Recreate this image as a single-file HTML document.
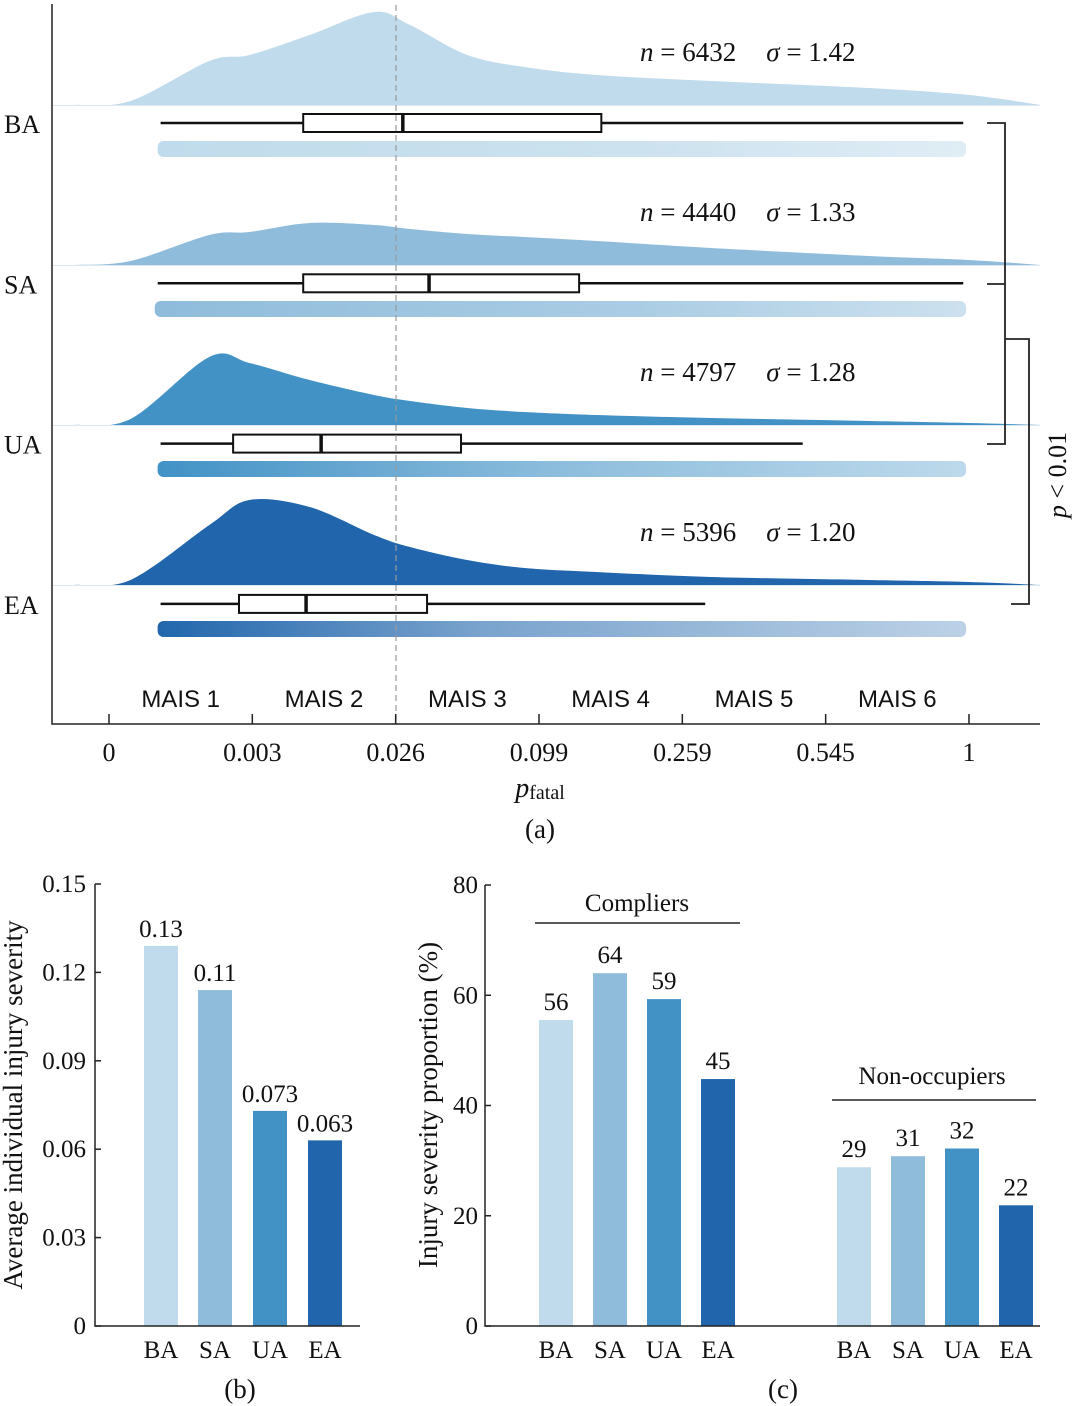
<!DOCTYPE html>
<html><head><meta charset="utf-8">
<style>
html,body{margin:0;padding:0;background:#fff;}
svg{display:block;font-family:"Liberation Serif",serif;}
</style></head>
<body>
<svg id="chart" width="1080" height="1406" viewBox="0 0 1080 1406" xmlns="http://www.w3.org/2000/svg">
<defs>
<linearGradient id="g0" x1="0" x2="1"><stop offset="0" stop-color="#c0dbeb" stop-opacity="1"/><stop offset="0.6" stop-color="#c0dbeb" stop-opacity="0.8"/><stop offset="1" stop-color="#c0dbeb" stop-opacity="0.5"/></linearGradient>
<linearGradient id="g1" x1="0" x2="1"><stop offset="0" stop-color="#8fbcdb" stop-opacity="1"/><stop offset="0.6" stop-color="#8fbcdb" stop-opacity="0.75"/><stop offset="1" stop-color="#8fbcdb" stop-opacity="0.45"/></linearGradient>
<linearGradient id="g2" x1="0" x2="1"><stop offset="0" stop-color="#4292c6" stop-opacity="1"/><stop offset="0.5" stop-color="#4292c6" stop-opacity="0.6"/><stop offset="1" stop-color="#4292c6" stop-opacity="0.35"/></linearGradient>
<linearGradient id="g3" x1="0" x2="1"><stop offset="0" stop-color="#2166ac" stop-opacity="1"/><stop offset="0.4" stop-color="#2166ac" stop-opacity="0.6"/><stop offset="1" stop-color="#2166ac" stop-opacity="0.3"/></linearGradient>
</defs>
<g id="topG"></g>
<g id="pb"></g>
<g id="pc"></g>
</svg>
<script>
// ---- Panel (a) data (x in MAIS index units, 0 = tick "0", 6 = tick "1") ----
const groups = ["BA","SA","UA","EA"];
const colors = ["#c0dbeb","#8fbcdb","#4292c6","#2166ac"];
const nVals = ["6432","4440","4797","5396"];
const sigmaVals = ["1.42","1.33","1.28","1.20"];
const whiskLo = [0.36,0.34,0.36,0.36];
const whiskHi = [5.96,5.96,4.84,4.16];
const q1 = [1.355,1.355,0.866,0.907];
const q3 = [3.435,3.28,2.456,2.219];
const medians = [2.05,2.233,1.48,1.375];
const densX = [-0.24,0.15,0.7,0.98,1.4,1.85,2.1,2.5,2.9,3.4,4.2,5.3,6.0,6.5];
const densBA = [0,4,44,50,70,93,80,50,38,30,24,17,10,0];
const densSA = [0,4,30,33,42,40,36,31,28,24,17,9,5,0];
const densUA = [0,6,68,62,45,30,24,17,13,10,7,4,2,0];
const densEA = [0,5,60,85,78,50,38,25,17,13,8,5,3,0];
const densities = [densBA,densSA,densUA,densEA];
const tickLabels = ["0","0.003","0.026","0.099","0.259","0.545","1"];
const maisLabels = ["MAIS 1","MAIS 2","MAIS 3","MAIS 4","MAIS 5","MAIS 6"];
// ---- Panel (b) ----
const bCats = ["BA","SA","UA","EA"];
const bVals = [0.129,0.114,0.073,0.063];
const bLabels = ["0.13","0.11","0.073","0.063"];
const bTicks = [0,0.03,0.06,0.09,0.12,0.15];
const bTickLabels = ["0","0.03","0.06","0.09","0.12","0.15"];
// ---- Panel (c) ----
const cCats = ["BA","SA","UA","EA"];
const compliers = [55.5,64,59.3,44.8];
const nonOcc = [28.8,30.8,32.2,21.9];
const compLabels = ["56","64","59","45"];
const nonLabels = ["29","31","32","22"];
const cTicks = [0,20,40,60,80];

const NS="http://www.w3.org/2000/svg";
function mk(parent,tag,attrs,text){const e=document.createElementNS(NS,tag);for(const k in attrs)e.setAttribute(k,attrs[k]);if(text!==undefined)e.textContent=text;parent.appendChild(e);return e;}

// Panel (a)
const topG=document.getElementById('topG');
const xA=v=>109+143.33*v;
const baseY=i=>105+160*i;
const boxY=i=>123+160.3*i;
const stripY=i=>149+160*i;
for(let i=0;i<4;i++){
  let d="M"+xA(densX[0])+","+baseY(i);
  const ys=densities[i];
  const pts=densX.map((x,j)=>[xA(x),baseY(i)-ys[j]]);
  for(let j=0;j<pts.length-1;j++){
    const p0=pts[Math.max(0,j-1)],p1=pts[j],p2=pts[j+1],p3=pts[Math.min(pts.length-1,j+2)];
    const c1=[p1[0]+(p2[0]-p0[0])/6,p1[1]+(p2[1]-p0[1])/6];
    const c2=[p2[0]-(p3[0]-p1[0])/6,p2[1]-(p3[1]-p1[1])/6];
    d+=` C${c1[0]},${c1[1]} ${c2[0]},${c2[1]} ${p2[0]},${p2[1]}`;
  }
  d+="Z";
  const dens=mk(topG,'path',{d:d,fill:colors[i]});
  
  
  const bl=mk(topG,'line',{x1:52,x2:1040,y1:baseY(i)+0.5,y2:baseY(i)+0.5,stroke:'#dde8ef','stroke-width':1});
  
  
  const st=mk(topG,'rect',{x:xA(whiskLo[i])-3,y:stripY(i)-8,width:xA(5.98)-xA(whiskLo[i])+3,height:16,rx:6,fill:`url(#g${i})`});
  
  
  const by=boxY(i);
  const wh=mk(topG,'line',{x1:xA(whiskLo[i]),x2:xA(whiskHi[i]),y1:by,y2:by,stroke:'#111','stroke-width':2.5});
  
  
  const bx=mk(topG,'rect',{x:xA(q1[i]),y:by-9,width:xA(q3[i])-xA(q1[i]),height:18,fill:'#fff',stroke:'#111','stroke-width':2});
  
  
  const md=mk(topG,'line',{x1:xA(medians[i]),x2:xA(medians[i]),y1:by-9,y2:by+9,stroke:'#111','stroke-width':3.5});
  
  
  const gl=mk(topG,'text',{x:4,y:by+10,'font-size':26,fill:'#111'},groups[i]);
  
  
  const st2=mk(topG,'text',{x:640,y:baseY(i)-44,'font-size':27,fill:'#111'});
  st2.innerHTML=`<tspan font-style="italic">n</tspan> = ${nVals[i]}<tspan dx="30" font-style="italic">σ</tspan> = ${sigmaVals[i]}`;
  
  
}
const dl=mk(topG,'line',{x1:396,x2:396,y1:5,y2:724,stroke:'#999','stroke-width':1.2,'stroke-dasharray':'6,4'});


const ya=mk(topG,'path',{d:'M52,4 V724 H1040',fill:'none',stroke:'#222','stroke-width':1.5});


tickLabels.forEach((t,k)=>{
  const tk=mk(topG,'line',{x1:xA(k),x2:xA(k),y1:714,y2:724,stroke:'#222','stroke-width':1.5});
  
  
  const tl=mk(topG,'text',{x:xA(k),y:761,'font-size':26,'text-anchor':'middle',fill:'#111'},t);
  
  
});
maisLabels.forEach((t,k)=>{
  const ml=mk(topG,'text',{x:xA(k+0.5),y:707,'font-size':24,'text-anchor':'middle',fill:'#111','font-family':'Liberation Sans, sans-serif'},t);
  
  
});
const xt=mk(topG,'text',{x:540,y:797,'font-size':28,'text-anchor':'middle',fill:'#111'});
xt.innerHTML='<tspan font-style="italic">p</tspan><tspan font-size="20" dy="2">fatal</tspan>';


const la=mk(topG,'text',{x:540,y:838,'font-size':27,'text-anchor':'middle',fill:'#111'},'(a)');


const br=mk(topG,'path',{d:'M987,123 H1005 V444 H987 M987,284 H1005 M1005,339 H1029 V604 H1011',fill:'none',stroke:'#222','stroke-width':1.8});


const pv=mk(topG,'text',{x:0,y:0,'font-size':26,'text-anchor':'middle',fill:'#111',transform:'translate(1066,475) rotate(-90)'});
pv.innerHTML='<tspan font-style="italic">p</tspan> &lt; 0.01';



// Panel (b)
const pb=document.getElementById('pb');
const yB=v=>1326-v*(1326-884)/0.15;
const bCx=[161,215,270,325];
bVals.forEach((v,i)=>{
  const r=mk(pb,'rect',{x:bCx[i]-17,y:yB(v),width:34,height:1326-yB(v),fill:colors[i]});
  
  
  const t=mk(pb,'text',{x:bCx[i],y:yB(v)-9,'font-size':25,'text-anchor':'middle',fill:'#111'},bLabels[i]);
  
  
  const c=mk(pb,'text',{x:bCx[i],y:1358,'font-size':25,'text-anchor':'middle',fill:'#111'},bCats[i]);
  
  
});
const axb=mk(pb,'path',{d:'M95,884 V1326 H360',fill:'none',stroke:'#222','stroke-width':1.5});


bTicks.forEach((v,k)=>{
  const tk=mk(pb,'line',{x1:95,x2:101,y1:yB(v),y2:yB(v),stroke:'#222','stroke-width':1.5});
  
  
  const tl=mk(pb,'text',{x:86,y:yB(v)+8,'font-size':25,'text-anchor':'end',fill:'#111'},bTickLabels[k]);
  
  
});
const ytb=mk(pb,'text',{x:0,y:0,'font-size':27,'text-anchor':'middle',fill:'#111',transform:'translate(22,1105) rotate(-90)'},'Average individual injury severity');


const lb=mk(pb,'text',{x:240,y:1398,'font-size':27,'text-anchor':'middle',fill:'#111'},'(b)');



// Panel (c)
const pc=document.getElementById('pc');
const yC=v=>1326-v*(1326-885)/80;
const cCx1=[556,610,664,718], cCx2=[854,908,962,1016];
[[compliers,compLabels,cCx1,'compliers'],[nonOcc,nonLabels,cCx2,'non-occupiers']].forEach(([vals,labs,cx,nm])=>{
  vals.forEach((v,i)=>{
    const r=mk(pc,'rect',{x:cx[i]-17,y:yC(v),width:34,height:1326-yC(v),fill:colors[i]});
    
    
    const t=mk(pc,'text',{x:cx[i],y:yC(v)-10,'font-size':25,'text-anchor':'middle',fill:'#111'},labs[i]);
    
    
    const c=mk(pc,'text',{x:cx[i],y:1358,'font-size':25,'text-anchor':'middle',fill:'#111'},cCats[i]);
    
    
  });
});
const axc=mk(pc,'path',{d:'M485,885 V1326 H1040',fill:'none',stroke:'#222','stroke-width':1.5});


cTicks.forEach(v=>{
  const tk=mk(pc,'line',{x1:485,x2:491,y1:yC(v),y2:yC(v),stroke:'#222','stroke-width':1.5});
  
  
  const tl=mk(pc,'text',{x:478,y:yC(v)+8,'font-size':25,'text-anchor':'end',fill:'#111'},String(v));
  
  
});
const ytc=mk(pc,'text',{x:0,y:0,'font-size':27,'text-anchor':'middle',fill:'#111',transform:'translate(437,1105) rotate(-90)'},'Injury severity proportion (%)');


const g1=mk(pc,'text',{x:637,y:911,'font-size':25,'text-anchor':'middle',fill:'#111'},'Compliers');


const g1l=mk(pc,'line',{x1:535,x2:740,y1:923,y2:923,stroke:'#222','stroke-width':1.5});


const g2=mk(pc,'text',{x:932,y:1084,'font-size':25,'text-anchor':'middle',fill:'#111'},'Non-occupiers');


const g2l=mk(pc,'line',{x1:832,x2:1036,y1:1100,y2:1100,stroke:'#222','stroke-width':1.5});


const lc=mk(pc,'text',{x:783,y:1398,'font-size':27,'text-anchor':'middle',fill:'#111'},'(c)');


</script>
</body></html>
